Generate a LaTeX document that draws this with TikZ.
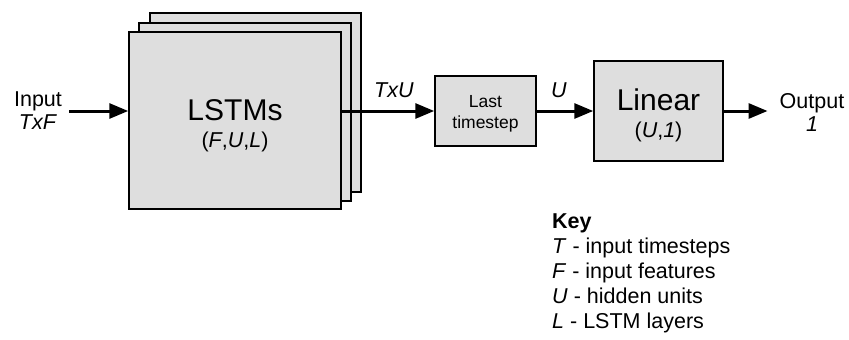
\documentclass[tikz,border=0pt]{standalone}
\usepackage{fontspec}
\setmainfont{Liberation Sans}
\usetikzlibrary{arrows.meta}
\definecolor{boxfill}{RGB}{222,222,222}
\tikzset{
  blk/.style={draw=black, line width=1.5pt, fill=boxfill, inner sep=0pt},
  arr/.style={line width=3pt, -{Triangle[length=19pt,width=15pt]}},
  lbl/.style={inner sep=0pt, anchor=base, font=\fontsize{21.5}{23}\selectfont},
  big/.style={inner sep=0pt, anchor=base, font=\fontsize{30}{34}\selectfont},
  small/.style={inner sep=0pt, anchor=base, font=\fontsize{17.5}{20}\selectfont},
  keyl/.style={inner sep=0pt, anchor=base west, font=\fontsize{21.5}{25}\selectfont}
}
\begin{document}
\begin{tikzpicture}[x=1pt,y=-1pt]
\useasboundingbox (0,0) rectangle (849,340);
% LSTM stack
\node[blk, minimum width=211pt, minimum height=179pt] (back) at (255.5,102.5) {};
\node[blk, minimum width=212pt, minimum height=178pt] (mid) at (245,112) {};
\node[blk, minimum width=212pt, minimum height=177pt] (front) at (235,120.5) {};
\node[big] (lstmt) at (235,120) {LSTMs};
\node[lbl] (lstmp) at (235,147) {(\textit{F},\textit{U},\textit{L})};
% Last timestep
\node[blk, minimum width=101pt, minimum height=70pt] (last) at (485.5,111) {};
\node[small] (lastt) at (485.5,107.5) {Last};
\node[small] (lasts) at (485.5,128) {timestep};
% Linear
\node[blk, minimum width=129pt, minimum height=100pt] (lin) at (658.5,111) {};
\node[big] (lint) at (658.5,110) {Linear};
\node[lbl] (linp) at (658.5,137) {(\textit{U},\textit{1})};
% input/output
\node[lbl, anchor=center, align=center] (input) at (38,111) {Input\\\textit{TxF}};
\node[lbl, anchor=center, align=center] (output) at (812,112) {Output\\\textit{1}};
% coordinate for arrow row
\coordinate (row) at (0,111);
% arrows
\draw[arr] (input.east |- row) ++(7,0) -- (front.west |- row);
\draw[arr] (front.east |- row) -- (last.west);
\draw[arr] (last.east) -- (lin.west);
\draw[arr] (lin.east) -- ([xshift=-12pt]output.west |- lin.east);
% arrow labels
\node[lbl] (txu) at (394,97) {\textit{TxU}};
\node[lbl] (ul) at (559,97) {\textit{U}};
% Key
\node[keyl] (key) at (552,228) {\textbf{Key}};
\node[keyl] (k1) at (552,253) {\textit{T} - input timesteps};
\node[keyl] (k2) at (552,278) {\textit{F} - input features};
\node[keyl] (k3) at (552,303) {\textit{U} - hidden units};
\node[keyl] (k4) at (552,328) {\textit{L} - LSTM layers};
\end{tikzpicture}
\end{document}
